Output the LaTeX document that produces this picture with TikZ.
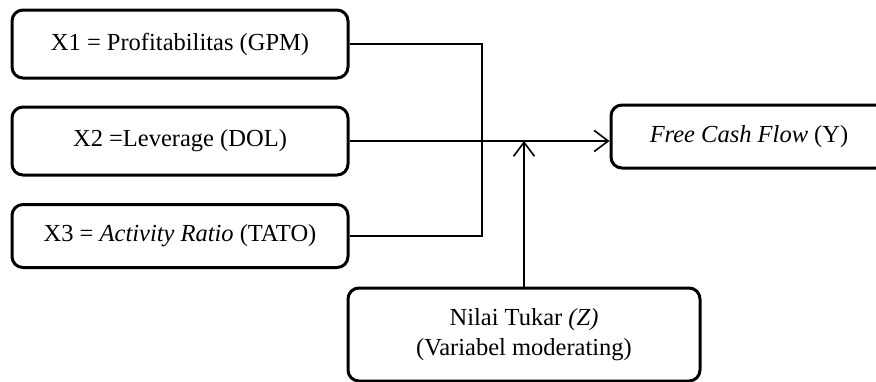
\documentclass[tikz,border=0pt]{standalone}
\usepackage{fontspec}
\setmainfont{Liberation Serif}
\usetikzlibrary{arrows.meta}
\begin{document}
\begin{tikzpicture}[x=1pt,y=-1pt,
  varbox/.style={draw=black,line width=3pt,rounded corners=11pt,inner sep=0pt,
    align=center,font=\fontsize{24.5}{30}\selectfont},
  link/.style={draw=black,line width=1.6pt},
  barb/.style={-{Straight Barb[length=14pt,width=21pt,line width=1.6pt]}}]
  \clip (0,0) rectangle (876,381);
  \useasboundingbox (0,0) rectangle (876,381);
  % independent variables
  \node[varbox,minimum width=336pt,minimum height=68pt] (x1) at (180,44)
    {X1 = Profitabilitas (GPM)};
  \node[varbox,minimum width=336pt,minimum height=68pt] (x2) at (180,141)
    {X2 =Leverage (DOL)};
  \node[varbox,minimum width=336pt,minimum height=63pt] (x3) at (180,236)
    {X3 = \textit{Activity Ratio} (TATO)};
  % dependent variable
  \node[varbox,minimum width=276pt,minimum height=63pt] (y) at (749,136.5)
    {\textit{Free Cash Flow} (Y)};
  % moderating variable
  \node[varbox,minimum width=352pt,minimum height=93pt] (z) at (524,334.5)
    {Nilai Tukar \textit{(Z)}\\(Variabel moderating)};
  % connectors
  \coordinate (bend1) at (482,44);
  \coordinate (bend3) at (482,236);
  \draw[link] (x1.east) -- (bend1) -- (bend3) -- (x3.east);
  \draw[link,barb] (x2.east) -- (x2.east -| y.west);
  \draw[link,barb] (z.north) -- (z.north |- x2.east);
\end{tikzpicture}
\end{document}
